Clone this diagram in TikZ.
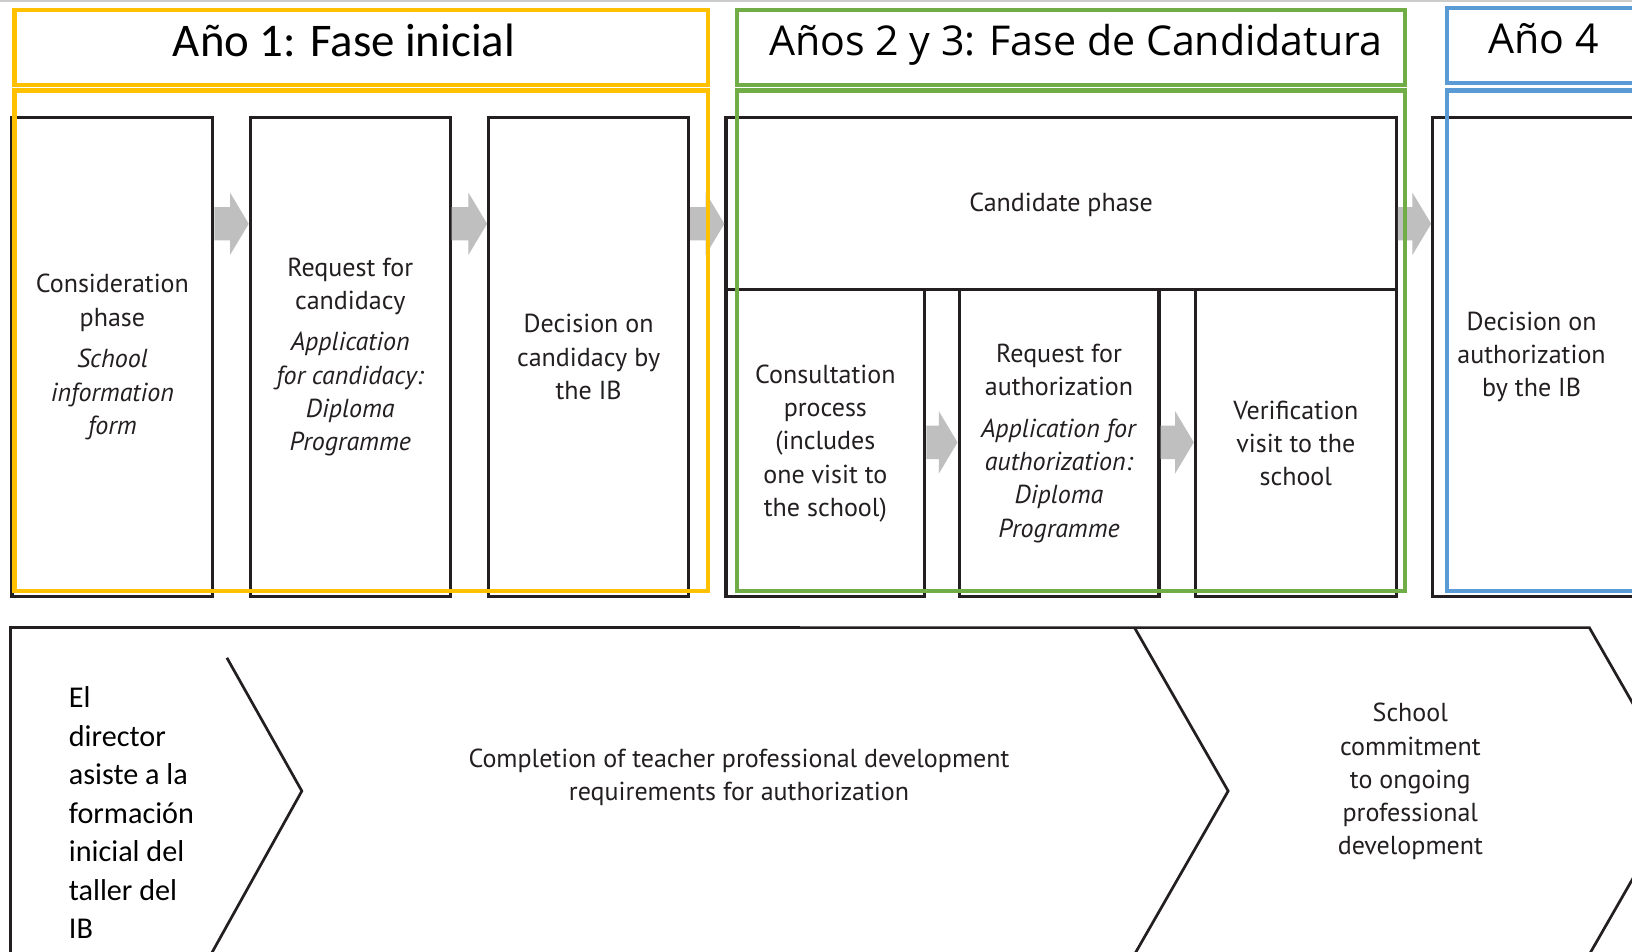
\documentclass[tikz,border=0pt]{standalone}
\usepackage{fontspec}
\setmainfont{PT Sans}
\newfontfamily\calib{Carlito}
\newfontfamily\opensans{Open Sans}
\usetikzlibrary{calc}
\definecolor{ibyellow}{HTML}{FFC000}
\definecolor{ibgreen}{HTML}{70AD47}
\definecolor{ibblue}{HTML}{5B9BD5}
\definecolor{arrowgray}{HTML}{BFBFBF}
\definecolor{ink}{HTML}{231F20}
\newcommand\grayarrow[3]{%
  \fill[arrowgray] let \p1=(#1.east), \p2=(#2.west), \p3=(0,#3) in
   (\x1,\y3-16pt) -- (\x2-18pt,\y3-16pt) -- (\x2-18pt,\y3-30pt) -- (\x2,\y3)
   -- (\x2-18pt,\y3+30pt) -- (\x2-18pt,\y3+16pt) -- (\x1,\y3+16pt) -- cycle;}
\begin{document}
\begin{tikzpicture}[x=1pt,y=-1pt,
  box/.style={draw=ink, line width=3pt, anchor=north west, inner sep=0pt},
  lbl/.style={align=center, text=ink, font=\fontsize{25}{32}\selectfont},
  frame/.style={draw=#1, line width=4pt, anchor=north west, inner sep=0pt},
  head/.style={text=black, inner sep=0pt},
  chev/.style={draw=ink, line width=2.6pt, line join=miter}]
\useasboundingbox (0,0) rectangle (1568,914);
\clip (0,0) rectangle (1568,914);
\fill[white] (0,0) rectangle (1568,914);
\draw[black!20, line width=2pt] (0,1) -- (1568,1);

% black process boxes
\node[box, minimum width=193pt, minimum height=461pt] (b1) at (10,111) {};
\node[box, minimum width=192pt, minimum height=461pt] (b2) at (239,111) {};
\node[box, minimum width=192pt, minimum height=461pt] (b3) at (468,111) {};
\node[box, minimum width=644pt, minimum height=166pt] (c0) at (696,111) {};
\node[box, minimum width=191pt, minimum height=295pt] (c1) at (696,277) {};
\node[box, minimum width=192pt, minimum height=295pt] (c2) at (920,277) {};
\node[box, minimum width=193pt, minimum height=295pt] (c3) at (1147,277) {};
\node[box, minimum width=196pt, minimum height=461pt] (d4) at (1375,111) {};

% texts in boxes
\node[lbl] (t1) at (b1.center) {Consideration\\phase\\[8pt]\textit{School}\\\textit{information}\\\textit{form}};
\node[lbl] (t2) at (b2.center) {Request for\\candidacy\\[8pt]\textit{Application}\\\textit{for candidacy:}\\\textit{Diploma}\\\textit{Programme}};
\node[lbl] (t3) at (b3.center) {Decision on\\candidacy by\\the IB};
\node[lbl] (t0) at ([yshift=-1pt]c0.center) {Candidate phase};
\node[lbl] (tc1) at (c1.center) {Consultation\\process\\(includes\\one visit to\\the school)};
\node[lbl] (tc2) at (c2.center) {Request for\\authorization\\[8pt]\textit{Application for}\\\textit{authorization:}\\\textit{Diploma}\\\textit{Programme}};
\node[lbl] (tc3) at (c3.center) {Verification\\visit to the\\school};
\node[lbl] (t4) at ([xshift=-3pt]d4.center) {Decision on\\authorization\\by the IB};

% gray arrows
\grayarrow{b1}{b2}{215}
\grayarrow{b2}{b3}{215}
\grayarrow{b3}{c0}{215}
\grayarrow{c0}{d4}{215}
\grayarrow{c1}{c2}{425}
\grayarrow{c2}{c3}{425}

% coloured year frames
\node[frame=ibyellow, minimum width=666pt, minimum height=72pt] (hy) at (12,8) {};
\node[frame=ibyellow, minimum width=666pt, minimum height=481pt] (fy) at (12,85) {};
\node[frame=ibgreen, minimum width=642pt, minimum height=72pt] (hg) at (706,8) {};
\node[frame=ibgreen, minimum width=642pt, minimum height=481pt] (fg) at (706,85) {};
\node[frame=ibblue, minimum width=200pt, minimum height=72pt] (hb) at (1388,6) {};
\node[frame=ibblue, minimum width=200pt, minimum height=481pt] (fb) at (1388,85) {};
\node[head, font=\calib\fontsize{45}{54}\selectfont] (ty) at (330.5,39) {Año 1: Fase inicial};
\node[head, font=\opensans\fontsize{39.5}{48}\selectfont] (tg) at (1033.5,43) {Años 2 y 3: Fase de Candidatura};
\node[head, font=\opensans\fontsize{39.5}{48}\selectfont] (tb) at (1483,37) {Año 4};

% bottom chevrons
\coordinate (o1) at (10,925);
\coordinate (o2) at (10,603);
\coordinate (o3) at (1527,603);
\coordinate (o4) at (1617,760);
\coordinate (o5) at (1527,917);
\draw[chev] (o1) -- (o2) -- (o3) -- (o4) -- (o5);
\draw[chev, line width=3pt] (o1) -- (o2) -- ($(o2)!0.5!(o3)$);
\coordinate (p1) at (218,632);
\coordinate (p2) at (290,760);
\coordinate (p3) at (201,920);
\draw[chev] (p1) -- (p2) -- (p3);
\coordinate (q1) at (1090,603);
\coordinate (q2) at (1180,760);
\coordinate (q3) at (1090,917);
\draw[chev] (q1) -- (q2) -- (q3);

\node[anchor=west, align=left, text=black, inner sep=0pt, font=\calib\fontsize{29}{37}\selectfont] (s1) at (66,781)
  {El\\director\\asiste a la\\formación\\inicial del\\taller del\\IB};
\node[lbl] (s2) at (710,747) {Completion of teacher professional development\\requirements for authorization};
\node[lbl] (s3) at (1355,751) {School\\commitment\\to ongoing\\professional\\development};
\end{tikzpicture}
\end{document}
